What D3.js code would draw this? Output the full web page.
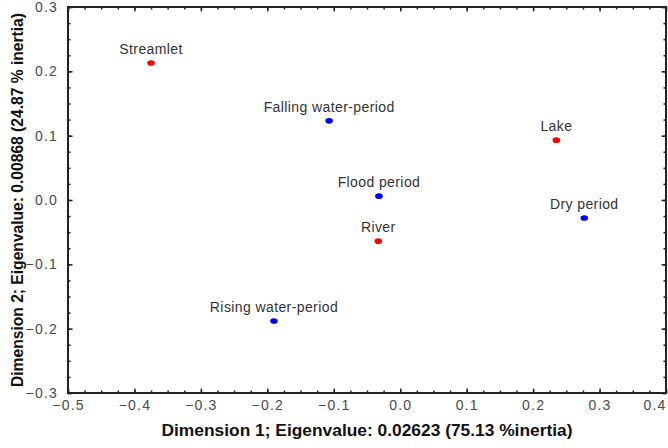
<!DOCTYPE html>
<html>
<head>
<meta charset="utf-8">
<script src="https://cdn.jsdelivr.net/npm/d3@7"></script>
<style>
  body { margin: 0; background: #fff; }
  text { font-family: "Liberation Sans", Arial, sans-serif; }
</style>
</head>
<body>
<div class="plot"></div>
<script>
// Data
const names = ["Streamlet", "Falling water-period", "Lake", "Flood period", "Dry period", "River", "Rising water-period"];
const dim1 = [-0.375, -0.107, 0.235, -0.032, 0.277, -0.033, -0.190];
const dim2 = [0.213, 0.123, 0.093, 0.006, -0.028, -0.064, -0.188];
const kind = ["site", "period", "site", "period", "period", "site", "period"];
const xTicks = [-0.5, -0.4, -0.3, -0.2, -0.1, 0.0, 0.1, 0.2, 0.3, 0.4];
const yTicks = [-0.3, -0.2, -0.1, 0.0, 0.1, 0.2, 0.3];

const margin = {top: 7, right: 2, bottom: 55, left: 68};
const w = 668 - margin.left - margin.right;
const h = 448 - margin.top - margin.bottom;

const svg = d3.select(".plot")
    .append("svg")
        .attr("width", 668)
        .attr("height", 448)
    .append("g")
        .attr("transform", "translate(" + margin.left + "," + margin.top + ")");

const x = d3.scaleLinear().domain([-0.5, 0.4]).range([0, w]);
const y = d3.scaleLinear().domain([-0.3, 0.3]).range([h, 0]);

const fmt = d3.format(".1f");
const minorX = d3.range(-0.5, 0.4001, 0.025);
const minorY = d3.range(-0.3, 0.3001, 0.025);

// minor ticks on all four sides (pointing inside)
const minor = [
    [d3.axisBottom(x).tickValues(minorX), "translate(0," + h + ")"],
    [d3.axisTop(x).tickValues(minorX), null],
    [d3.axisLeft(y).tickValues(minorY), null],
    [d3.axisRight(y).tickValues(minorY), "translate(" + w + ",0)"]
];
minor.forEach(([ax, tr]) => {
    const g = svg.append("g")
        .call(ax.tickSizeInner(-2.5).tickSizeOuter(0).tickFormat(""));
    if (tr) g.attr("transform", tr);
    g.select(".domain").remove();
    g.selectAll("line").attr("stroke", "#222").attr("stroke-width", 1.5);
});

// major ticks with labels
const xAxis = svg.append("g")
    .attr("transform", "translate(0," + h + ")")
    .call(d3.axisBottom(x).tickValues(xTicks).tickFormat(fmt)
        .tickSizeInner(-4.5).tickSizeOuter(0).tickPadding(7));
const yAxis = svg.append("g")
    .call(d3.axisLeft(y).tickValues(yTicks).tickFormat(fmt)
        .tickSizeInner(-4.5).tickSizeOuter(0).tickPadding(10));
svg.append("g")
    .call(d3.axisTop(x).tickValues(xTicks).tickFormat("").tickSizeInner(-4.5).tickSizeOuter(0));
svg.append("g")
    .attr("transform", "translate(" + w + ",0)")
    .call(d3.axisRight(y).tickValues(yTicks).tickFormat("").tickSizeInner(-4.5).tickSizeOuter(0));

svg.selectAll(".domain").remove();
svg.selectAll(".tick line").attr("stroke", "#222").attr("stroke-width", 1.5);
svg.selectAll(".tick text")
    .style("font-family", "'Liberation Sans', Arial, sans-serif")
    .style("font-size", "14px")
    .style("letter-spacing", "1.2px")
    .attr("fill", "#4a4a4a");

// last x label would run off the right edge
xAxis.selectAll(".tick text")
    .filter(d => d === xTicks[xTicks.length - 1])
    .attr("text-anchor", "end");

// frame
svg.append("rect")
    .attr("width", w)
    .attr("height", h)
    .attr("fill", "none")
    .attr("stroke", "#222")
    .attr("stroke-width", 2);

// axis titles
svg.append("text")
    .attr("x", w / 2)
    .attr("y", 429)
    .attr("text-anchor", "middle")
    .attr("textLength", 411)
    .attr("lengthAdjust", "spacingAndGlyphs")
    .style("font-size", "16px")
    .style("font-weight", "bold")
    .attr("fill", "#111")
    .text("Dimension 1; Eigenvalue: 0.02623 (75.13 %inertia)");

svg.append("text")
    .attr("transform", "translate(-45," + (h / 2) + ") rotate(-90)")
    .attr("text-anchor", "middle")
    .attr("textLength", 374)
    .attr("lengthAdjust", "spacingAndGlyphs")
    .style("font-size", "16px")
    .style("font-weight", "bold")
    .attr("fill", "#111")
    .text("Dimension 2; Eigenvalue: 0.00868 (24.87 % inertia)");

// points and their labels
const pts = names.map((n, i) => ({name: n, d1: dim1[i], d2: dim2[i], kind: kind[i]}));
const color = d => d.kind === "site" ? "#ff0000" : "#0000ff";

svg.selectAll("ellipse")
    .data(pts)
    .enter()
    .append("ellipse")
        .attr("cx", d => x(d.d1))
        .attr("cy", d => y(d.d2))
        .attr("rx", 3.8)
        .attr("ry", 2.8)
        .attr("fill", color);

svg.selectAll(".pt-label")
    .data(pts)
    .enter()
    .append("text")
        .attr("class", "pt-label")
        .attr("x", d => x(d.d1))
        .attr("y", d => y(d.d2) - 9)
        .attr("text-anchor", "middle")
        .style("font-size", "14px")
        .style("letter-spacing", "0.4px")
        .attr("fill", "#333")
        .text(d => d.name);
</script>
</body>
</html>
